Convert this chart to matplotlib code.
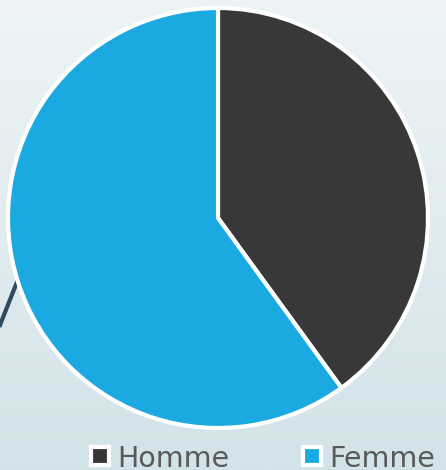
import numpy as np
import matplotlib.pyplot as plt
from matplotlib.colors import LinearSegmentedColormap
from matplotlib.patches import Rectangle

labels = ["Homme", "Femme"]
values = [40, 60]
colors = ["#383838", "#1ba9e1"]

W, H = 446, 470
fig = plt.figure(figsize=(W / 100, H / 100), dpi=100)

# background gradient
bg = fig.add_axes([0, 0, 1, 1])
grad = np.linspace(0, 1, 256).reshape(-1, 1)
cmap = LinearSegmentedColormap.from_list("bg", ["#eef4f6", "#d2e3e9"])
bg.imshow(grad, aspect="auto", cmap=cmap, extent=[0, W, 0, H], origin="upper")
bg.plot([0, 17], [H - 325, H - 282], color="#2d4a5e", lw=3)
bg.set_xlim(0, W)
bg.set_ylim(0, H)
bg.set_axis_off()

ax = fig.add_axes([8 / W, 1 - 428 / H, 420 / W, 420 / H])
wedges, _ = ax.pie(values, colors=colors, startangle=90, counterclock=False,
                   wedgeprops=dict(edgecolor="white", linewidth=3))
ax.set_aspect("equal")
ax.set_xlim(-1.0, 1.0)
ax.set_ylim(-1.0, 1.0)

# legend, drawn by hand in pixel coordinates of the background axes
legend_x = [91, 303]
for x, lab, col in zip(legend_x, labels, colors):
    bg.add_patch(Rectangle((x, H - 465), 18, 18, facecolor=col,
                           edgecolor="white", lw=3))
    bg.text(x + 26, H - 467, lab, fontsize=20.5, color="#595959",
            family="DejaVu Sans", ha="left", va="baseline")

fig.savefig("out.png", dpi=100)
